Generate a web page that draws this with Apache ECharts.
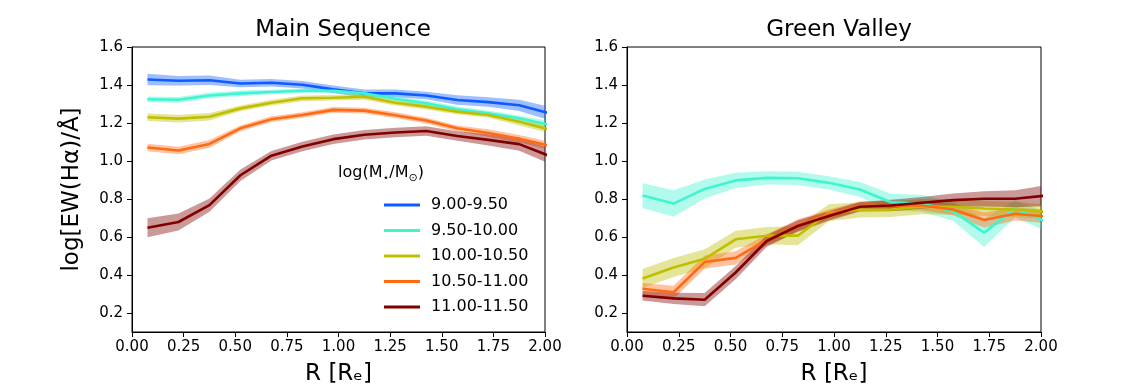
<!DOCTYPE html>
<html>
<head>
<meta charset="utf-8">
<script src="https://cdn.jsdelivr.net/npm/echarts@6/dist/echarts.min.js"></script>
<style>
  html, body { margin: 0; padding: 0; background: #fff; }
  #chart { width: 1136px; height: 391px; }
</style>
</head>
<body>
<div id="chart"></div>
<script>
// radial bin centres, R [Re]
const xR = [0.075, 0.225, 0.375, 0.525, 0.675, 0.825, 0.975, 1.125, 1.275, 1.425, 1.575, 1.725, 1.875, 2.025];

const massBins = ['9.00-9.50', '9.50-10.00', '10.00-10.50', '10.50-11.00', '11.00-11.50'];
const binColors = ['#0d5cff', '#3ff5cf', '#bfbf00', '#ff6a13', '#800000'];

// Main Sequence: mean log EW(Ha) and band half-width per mass bin
const msMean = [
    [1.429, 1.422, 1.425, 1.408, 1.412, 1.401, 1.377, 1.356, 1.356, 1.345, 1.321, 1.310, 1.293, 1.250],
    [1.325, 1.322, 1.345, 1.356, 1.363, 1.370, 1.370, 1.356, 1.328, 1.304, 1.272, 1.251, 1.225, 1.190],
    [1.230, 1.223, 1.233, 1.277, 1.307, 1.330, 1.333, 1.338, 1.307, 1.286, 1.260, 1.242, 1.207, 1.165],
    [1.071, 1.055, 1.090, 1.172, 1.220, 1.242, 1.269, 1.265, 1.241, 1.213, 1.172, 1.147, 1.117, 1.080],
    [0.649, 0.679, 0.768, 0.925, 1.028, 1.076, 1.115, 1.138, 1.150, 1.158, 1.132, 1.111, 1.089, 1.025]
];
const msErr = [
    [0.030, 0.025, 0.025, 0.020, 0.020, 0.020, 0.020, 0.020, 0.020, 0.020, 0.025, 0.025, 0.030, 0.035],
    [0.015, 0.015, 0.015, 0.015, 0.012, 0.012, 0.012, 0.012, 0.012, 0.015, 0.015, 0.015, 0.015, 0.020],
    [0.020, 0.020, 0.020, 0.015, 0.015, 0.015, 0.015, 0.015, 0.015, 0.015, 0.015, 0.015, 0.020, 0.020],
    [0.020, 0.020, 0.020, 0.015, 0.015, 0.015, 0.015, 0.015, 0.015, 0.015, 0.015, 0.020, 0.020, 0.020],
    [0.050, 0.045, 0.035, 0.030, 0.025, 0.025, 0.025, 0.025, 0.025, 0.025, 0.025, 0.030, 0.035, 0.040]
];

// Green Valley: no galaxies in the lowest mass bin
const gvMean = [
    null,
    [0.818, 0.776, 0.853, 0.898, 0.911, 0.909, 0.885, 0.850, 0.783, 0.776, 0.736, 0.623, 0.749, 0.680],
    [0.382, 0.440, 0.485, 0.588, 0.607, 0.607, 0.728, 0.743, 0.745, 0.760, 0.759, 0.750, 0.745, 0.732],
    [0.328, 0.309, 0.468, 0.490, 0.585, 0.662, 0.720, 0.762, 0.766, 0.766, 0.745, 0.689, 0.722, 0.708],
    [0.291, 0.277, 0.270, 0.413, 0.579, 0.658, 0.710, 0.759, 0.766, 0.780, 0.794, 0.801, 0.801, 0.818]
];
const gvErr = [
    null,
    [0.065, 0.070, 0.050, 0.040, 0.035, 0.035, 0.035, 0.040, 0.045, 0.045, 0.050, 0.075, 0.045, 0.050],
    [0.050, 0.050, 0.050, 0.045, 0.045, 0.050, 0.045, 0.040, 0.040, 0.040, 0.040, 0.040, 0.040, 0.040],
    [0.030, 0.035, 0.035, 0.035, 0.030, 0.030, 0.025, 0.025, 0.025, 0.025, 0.030, 0.040, 0.035, 0.035],
    [0.025, 0.030, 0.035, 0.035, 0.030, 0.030, 0.025, 0.025, 0.030, 0.030, 0.035, 0.040, 0.045, 0.055]
];

const xTicks = [0, 0.25, 0.5, 0.75, 1, 1.25, 1.5, 1.75, 2];
const yTicks = [0.2, 0.4, 0.6, 0.8, 1.0, 1.2, 1.4, 1.6];

const FONT = 'DejaVu Sans';

// shaded band drawn as one polygon through the axis scales
function bandSeries(idx, name, mean, err, color) {
    return {
        type: 'custom',
        name: name + ' band',
        xAxisIndex: idx,
        yAxisIndex: idx,
        silent: true,
        data: [[xR[0], mean[0]]],
        renderItem: function (params, api) {
            const pts = [];
            for (let i = 0; i < xR.length; i++) pts.push(api.coord([xR[i], mean[i] + err[i]]));
            for (let i = xR.length - 1; i >= 0; i--) pts.push(api.coord([xR[i], mean[i] - err[i]]));
            const cs = params.coordSys;
            return {
                type: 'polygon',
                shape: {points: pts},
                style: {fill: color, opacity: 0.4},
                clipPath: {type: 'rect', shape: {x: cs.x, y: cs.y, width: cs.width, height: cs.height}}
            };
        }
    };
}

function lineSeries(idx, name, mean, color) {
    return {
        type: 'line',
        name: name,
        xAxisIndex: idx,
        yAxisIndex: idx,
        color: color,
        showSymbol: false,
        clip: true,
        animation: false,
        lineStyle: {color: color, width: 2.6},
        data: xR.map((x, i) => [x, mean[i]])
    };
}

const series = [];
massBins.forEach((name, k) => {
    series.push(bandSeries(0, name, msMean[k], msErr[k], binColors[k]));
    series.push(lineSeries(0, name, msMean[k], binColors[k]));
});
massBins.forEach((name, k) => {
    if (!gvMean[k]) return;
    series.push(bandSeries(1, name, gvMean[k], gvErr[k], binColors[k]));
    series.push(lineSeries(1, name, gvMean[k], binColors[k]));
});

function xAxis(idx) {
    return {
        type: 'value', gridIndex: idx, min: 0, max: 2, interval: 0.25,
        name: 'R [Rₑ]', nameLocation: 'middle', nameGap: 31,
        nameTextStyle: {fontFamily: FONT, fontSize: 23, color: '#000'},
        axisLine: {show: true, onZero: false, lineStyle: {color: '#000', width: 1}},
        axisTick: {show: true, length: 5, lineStyle: {color: '#000'}},
        axisLabel: {fontFamily: FONT, fontSize: 15, color: '#000', margin: 8,
            formatter: v => v.toFixed(2)},
        splitLine: {show: false}
    };
}

function yAxis(idx) {
    return {
        type: 'value', gridIndex: idx, min: 0.1, max: 1.6,
        name: idx === 0 ? 'log[EW(Hα)/Å]' : '', nameLocation: 'middle', nameGap: 48,
        nameTextStyle: {fontFamily: FONT, fontSize: 23, color: '#000'},
        axisLine: {show: true, lineStyle: {color: '#000', width: 1}},
        axisTick: {show: true, length: 5, customValues: yTicks, lineStyle: {color: '#000'}},
        axisLabel: {fontFamily: FONT, fontSize: 15, color: '#000', margin: 9,
            customValues: yTicks, formatter: v => v.toFixed(1)},
        splitLine: {show: false}
    };
}

const chart = echarts.init(document.getElementById('chart'), null, {renderer: 'canvas'});

chart.setOption({
    backgroundColor: '#fff',
    animation: false,
    textStyle: {fontFamily: FONT},
    title: [
        {text: 'Main Sequence', left: 338, top: 14, textAlign: 'center',
            textStyle: {fontFamily: FONT, fontSize: 23, fontWeight: 'normal', color: '#000'}},
        {text: 'Green Valley', left: 834, top: 14, textAlign: 'center',
            textStyle: {fontFamily: FONT, fontSize: 23, fontWeight: 'normal', color: '#000'}}
    ],
    grid: [
        {left: 132, right: 591, top: 47, bottom: 58, show: true, borderColor: '#000', borderWidth: 1, backgroundColor: 'transparent'},
        {left: 627, right: 95, top: 47, bottom: 58, show: true, borderColor: '#000', borderWidth: 1, backgroundColor: 'transparent'}
    ],
    xAxis: [xAxis(0), xAxis(1)],
    yAxis: [yAxis(0), yAxis(1)],
    legend: {
        data: massBins,
        orient: 'vertical',
        left: 384,
        top: 196,
        padding: 0,
        icon: 'rect',
        itemWidth: 36,
        itemHeight: 3,
        itemGap: 7.5,
        selectedMode: false,
        textStyle: {fontFamily: FONT, fontSize: 16, color: '#000', lineHeight: 18, padding: [0, 0, 0, 6]}
    },
    graphic: [{
        type: 'text',
        left: 338,
        top: 165,
        style: {
            text: '{n|log(M}{s|⋆}{n|/M}{s|⊙}{n|)}',
            rich: {
                n: {fontFamily: FONT, fontSize: 16, lineHeight: 22, fill: '#000'},
                s: {fontFamily: FONT, fontSize: 11, lineHeight: 11, verticalAlign: 'bottom', fill: '#000'}
            }
        }
    }],
    series: series
});
</script>
</body>
</html>
